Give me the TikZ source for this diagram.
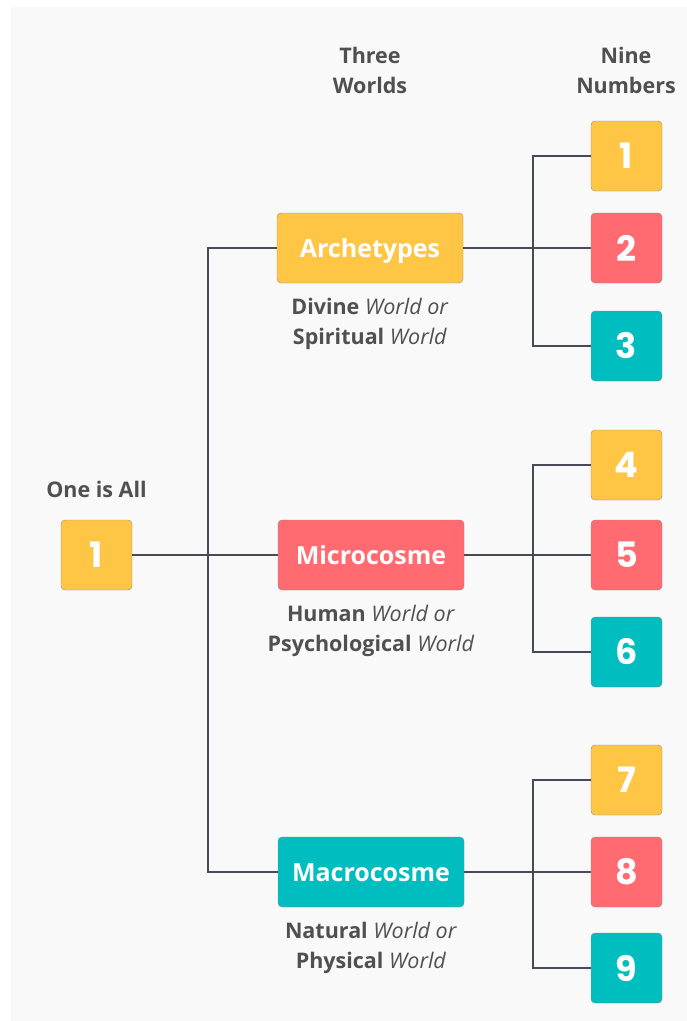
\documentclass[tikz,border=0pt]{standalone}
\usepackage{fontspec}
\setmainfont{Open Sans}
\newfontfamily\numfont{Poppins}
\usepackage{xcolor}
\usepackage{tikz}
\usetikzlibrary{positioning}
\definecolor{bgc}{RGB}{249,249,249}
\definecolor{yel}{RGB}{255,198,69}
\definecolor{rd}{RGB}{255,107,112}
\definecolor{tl}{RGB}{0,189,191}
\definecolor{edge}{RGB}{71,75,87}
\definecolor{txt}{RGB}{80,80,80}

\begin{document}
\begin{tikzpicture}[x=1pt, y=-1pt,
  world/.style={draw=black!45, rounded corners=4pt, minimum width=186pt, minimum height=70pt, inner sep=0pt, text height=18pt, text depth=0pt, text=white, font=\fontsize{25}{30}\selectfont\bfseries},
  num/.style={draw=black!45, rounded corners=4pt, minimum width=71pt, minimum height=70pt, inner sep=0pt, text=white, font=\fontsize{35}{40}\selectfont\numfont\bfseries},
  note/.style={align=center, text=txt, inner sep=0pt, font=\fontsize{21.5}{30}\selectfont},
  head/.style={align=center, text=txt, inner sep=0pt, font=\fontsize{21.5}{30}\selectfont\bfseries},
  link/.style={draw=edge, line width=2pt},
]
  \useasboundingbox (0,0) rectangle (687,1021);
  \fill[bgc] (11,7) rectangle (687,1021);

  \node[head] (hworlds) at (370,70) {Three\\ Worlds};
  \node[head] (hnums) at (626,70) {Nine\\ Numbers};

  \node[num, fill=yel] (root) at (96.5,555) {1};
  \node[head, above=22pt of root] (hroot) {One is All};

  \node[world, fill=yel] (arch) at (370,248) {Archetypes};
  \node[world, fill=rd] (micro) at (371,555) {Microcosme};
  \node[world, fill=tl] (macro) at (371,872) {Macrocosme};

  \node[note, below=15pt of arch] (larch) {\textbf{Divine} \textit{World or}\\ \textbf{Spiritual} \textit{World}};
  \node[note, below=15pt of micro] (lmicro) {\textbf{Human} \textit{World or}\\ \textbf{Psychological} \textit{World}};
  \node[note, below=15pt of macro] (lmacro) {\textbf{Natural} \textit{World or}\\ \textbf{Physical} \textit{World}};

  \node[num, fill=yel] (n1) at (626.5,156) {1};
  \node[num, fill=rd] (n2) at (626.5,248) {2};
  \node[num, fill=tl] (n3) at (626.5,346) {3};
  \node[num, fill=yel] (n4) at (626.5,465) {4};
  \node[num, fill=rd] (n5) at (626.5,555) {5};
  \node[num, fill=tl] (n6) at (626.5,652) {6};
  \node[num, fill=yel] (n7) at (626.5,780) {7};
  \node[num, fill=rd] (n8) at (626.5,872) {8};
  \node[num, fill=tl] (n9) at (626.5,968) {9};

  % trunk
  \draw[link] (root) -- (micro);
  \draw[link] (arch.west) -- ++(-69,0) |- (macro.west);

  % branches
  \draw[link] (arch) -- (n2);
  \draw[link] (n1.west) -- ++(-58,0) |- (n3.west);
  \draw[link] (micro) -- (n5);
  \draw[link] (n4.west) -- ++(-58,0) |- (n6.west);
  \draw[link] (macro) -- (n8);
  \draw[link] (n7.west) -- ++(-58,0) |- (n9.west);
\end{tikzpicture}
\end{document}
